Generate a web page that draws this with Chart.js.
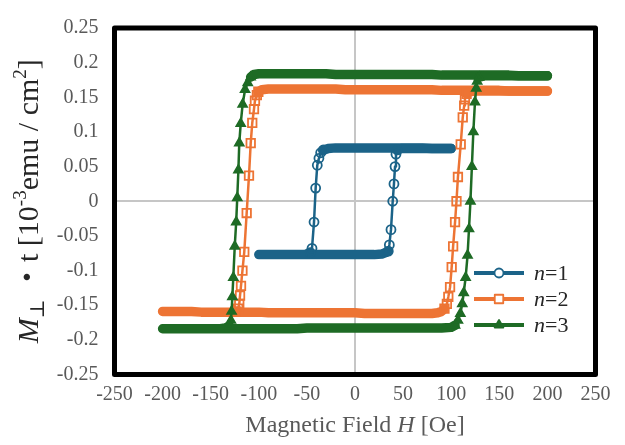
<!DOCTYPE html>
<html>
<head>
<meta charset="utf-8">
<script src="https://cdn.jsdelivr.net/npm/chart.js@4.4.1/dist/chart.umd.min.js"></script>
<style>
  html, body { margin: 0; padding: 0; background: #fff; }
  #wrap { width: 625px; height: 445px; position: relative; }
</style>
</head>
<body>
<div id="wrap"><canvas id="chart"></canvas></div>
<script>
// axis ticks
const xTicks = [-250, -200, -150, -100, -50, 0, 50, 100, 150, 200, 250];
const yTicks = [0.25, 0.2, 0.15, 0.1, 0.05, 0, -0.05, -0.1, -0.15, -0.2, -0.25];
const yTickLabels = ['0.25', '0.2', '0.15', '0.1', '0.05', '0', '-0.05', '-0.1', '-0.15', '-0.2', '-0.25'];

const seriesNames = ['1', '2', '3'];   // shown as "n=1" etc.

// n=1 : field H [Oe] and M*t, sweep down then up
const n1H = [100, 90, 80, 70, 60, 50, 40, 30, 20, 10, 0, -10, -20, -28,
  -33, -35.7, -37.5, -39.2, -40.9, -42.6, -44.7, -46.5, -52, -60, -70, -80, -90, -100,
  -90, -80, -70, -60, -50, -40, -30, -20, -10, 0, 10, 20, 28,
  32, 34.6, 35.7, 37.4, 39.2, 40.5, 41.6, 42.6, 44, 48, 60, 70, 80, 90, 100];
const n1M = [0.076, 0.076, 0.076, 0.077, 0.077, 0.077, 0.077, 0.077, 0.077, 0.077, 0.077, 0.077, 0.077, 0.076,
  0.074, 0.070, 0.062, 0.052, 0.019, -0.030, -0.068, -0.074, -0.077, -0.077, -0.077, -0.077, -0.077, -0.077,
  -0.077, -0.077, -0.077, -0.077, -0.077, -0.077, -0.077, -0.077, -0.077, -0.077, -0.077, -0.077, -0.076,
  -0.074, -0.072, -0.063, -0.041, 0.000, 0.025, 0.050, 0.068, 0.074, 0.076, 0.076, 0.076, 0.076, 0.076, 0.076];

// n=2
const n2H = [200, 190, 180, 170, 160, 150, 140, 130, 120, 110, 100, 90, 80, 70, 60, 50, 40, 30, 20, 10, 0,
  -10, -20, -30, -40, -50, -60, -70, -80, -90, -97,
  -100.5, -102, -104, -105, -106.8, -108.4, -110.2, -112.6, -115.1, -117, -118.5, -119.5, -120.3, -121.5, -124, -130,
  -140, -150, -160, -170, -180, -190, -200,
  -190, -180, -170, -160, -150, -140, -130, -120, -110, -100, -90, -80, -70, -60, -50, -40, -30, -20, -10,
  0, 10, 20, 30, 40, 50, 60, 70, 80, 86,
  90, 93, 95.5, 97, 98.8, 100.5, 102, 104, 105.5, 107, 109.9, 112, 113.5, 114.3, 116, 119, 125,
  130, 140, 150, 160, 170, 180, 190, 200];
const n2M = [0.159, 0.159, 0.159, 0.159, 0.159, 0.160, 0.160, 0.160, 0.160, 0.160, 0.160, 0.160, 0.161, 0.161, 0.161, 0.161, 0.161, 0.161, 0.161, 0.161, 0.161,
  0.161, 0.162, 0.162, 0.162, 0.162, 0.162, 0.162, 0.162, 0.162, 0.161,
  0.158, 0.153, 0.145, 0.133, 0.113, 0.084, 0.037, -0.017, -0.073, -0.100, -0.122, -0.136, -0.148, -0.155, -0.159, -0.160,
  -0.160, -0.160, -0.160, -0.159, -0.159, -0.159, -0.159,
  -0.159, -0.159, -0.159, -0.160, -0.160, -0.160, -0.160, -0.160, -0.160, -0.160, -0.161, -0.161, -0.161, -0.161, -0.161, -0.161, -0.161, -0.161, -0.161,
  -0.161, -0.162, -0.162, -0.162, -0.162, -0.162, -0.162, -0.162, -0.162, -0.161,
  -0.159, -0.155, -0.148, -0.138, -0.124, -0.095, -0.065, -0.030, 0.000, 0.035, 0.082, 0.121, 0.138, 0.147, 0.155, 0.158, 0.159,
  0.159, 0.159, 0.159, 0.159, 0.159, 0.159, 0.159, 0.159];

// n=3
const n3H = [200, 190, 180, 170, 160, 150, 140, 130, 120, 110, 100, 90, 80, 70, 60, 50, 40, 30, 20, 10, 0,
  -10, -20, -30, -40, -50, -60, -70, -80, -90, -100,
  -105, -108.5, -111.5, -114.3, -116.8, -118.8, -120.3, -121.2, -122.4, -123.5, -125, -126.5, -127.5, -128.3, -129, -130.5, -135,
  -140, -150, -160, -170, -180, -190, -200,
  -190, -180, -170, -160, -150, -140, -130, -120, -110, -100, -90, -80, -70, -60, -50, -40, -30, -20, -10,
  0, 10, 20, 30, 40, 50, 60, 70, 80, 90,
  100, 104, 107, 109.5, 111.5, 113, 115, 117, 118.5, 120, 121.5, 123, 124.7, 126, 127, 129, 134,
  140, 150, 160, 170, 180, 190, 200];
const n3M = [0.181, 0.181, 0.181, 0.181, 0.182, 0.182, 0.182, 0.182, 0.182, 0.182, 0.182, 0.182, 0.183, 0.183, 0.183, 0.183, 0.183, 0.183, 0.183, 0.183, 0.183,
  0.183, 0.183, 0.184, 0.184, 0.184, 0.184, 0.184, 0.184, 0.184, 0.184,
  0.183, 0.179, 0.171, 0.161, 0.140, 0.112, 0.084, 0.045, 0.005, -0.030, -0.065, -0.110, -0.138, -0.159, -0.172, -0.180, -0.183,
  -0.184, -0.184, -0.184, -0.184, -0.184, -0.184, -0.184,
  -0.184, -0.184, -0.184, -0.184, -0.184, -0.184, -0.184, -0.184, -0.184, -0.184, -0.184, -0.184, -0.184, -0.184, -0.183, -0.183, -0.183, -0.183, -0.183,
  -0.183, -0.183, -0.183, -0.183, -0.183, -0.183, -0.183, -0.183, -0.183, -0.183,
  -0.182, -0.179, -0.172, -0.162, -0.148, -0.132, -0.110, -0.078, -0.040, 0.000, 0.050, 0.100, 0.143, 0.163, 0.173, 0.179, 0.181,
  0.181, 0.181, 0.181, 0.181, 0.181, 0.181, 0.181, 0.181];

const colors = ['#1b6388', '#ed7434', '#1e6b25'];
const styles = ['circle', 'rect', 'triangle'];
const radii = [4.5, 6, 5];

const SERIF = "'Liberation Serif', 'DejaVu Serif', 'Noto Sans CJK JP', serif";
const AREA = { left: 114.5, right: 595.5, top: 18.5, bottom: 374.5 };

function toPoints(hs, ms) {
  return hs.map((h, i) => ({ x: h, y: ms[i] }));
}

// a segment counts as "flat" when it runs more across than up in pixels
function isFlatSeg(chart, a, b) {
  const xs = chart.scales.x, ys = chart.scales.y;
  const dx = Math.abs(xs.getPixelForValue(b.x) - xs.getPixelForValue(a.x));
  const dy = Math.abs(ys.getPixelForValue(b.y) - ys.getPixelForValue(a.y));
  return dx > dy;
}

function markerRadius(c) {
  const d = c.dataset.data, i = c.dataIndex;
  const r = radii[c.datasetIndex];
  if (!c.chart.scales.x) return r;
  const prevFlat = i === 0 || isFlatSeg(c.chart, d[i - 1], d[i]);
  const nextFlat = i === d.length - 1 || isFlatSeg(c.chart, d[i], d[i + 1]);
  return prevFlat && nextFlat ? 0 : r;
}

const allH = [n1H, n2H, n3H];
const allM = [n1M, n2M, n3M];

const datasets = allH.map((hs, i) => ({
  label: 'n=' + seriesNames[i],
  data: toPoints(hs, allM[i]),
  showLine: true,
  borderColor: colors[i],
  pointBorderColor: colors[i],
  pointBackgroundColor: styles[i] === 'triangle' ? colors[i] : 'rgba(255,255,255,0)',
  pointStyle: styles[i],
  pointRadius: markerRadius,
  pointBorderWidth: 1.8,
  borderWidth: 2.5,
  borderCapStyle: 'round',
  borderJoinStyle: 'round',
  order: 3 - i,
  segment: {
    // flat parts of the loop look like a thick band of overlapping markers
    borderWidth: ctx => {
      const dx = Math.abs(ctx.p1.x - ctx.p0.x);
      const dy = Math.abs(ctx.p1.y - ctx.p0.y);
      return dx > dy ? 9.5 : 2.5;
    }
  }
}));

function drawParts(ctx, parts, x, y, align) {
  let total = 0;
  parts.forEach(p => { ctx.font = p.font; total += ctx.measureText(p.t).width; });
  let cx = align === 'center' ? x - total / 2 : x;
  parts.forEach(p => {
    ctx.font = p.font;
    ctx.fillText(p.t, cx, y + (p.dy || 0));
    cx += ctx.measureText(p.t).width;
  });
}

function drawMarker(ctx, style, x, y, r, color) {
  ctx.save();
  ctx.strokeStyle = color;
  ctx.fillStyle = color;
  ctx.lineWidth = 1.8;
  ctx.beginPath();
  if (style === 'circle') {
    ctx.arc(x, y, r, 0, Math.PI * 2);
    ctx.fillStyle = '#fff';
    ctx.fill();
    ctx.stroke();
  } else if (style === 'rect') {
    const s = r / Math.SQRT2;
    ctx.rect(x - s, y - s, 2 * s, 2 * s);
    ctx.fillStyle = '#fff';
    ctx.fill();
    ctx.stroke();
  } else {
    ctx.moveTo(x, y - r);
    ctx.lineTo(x - r * 0.87, y + r * 0.5);
    ctx.lineTo(x + r * 0.87, y + r * 0.5);
    ctx.closePath();
    ctx.fill();
    ctx.stroke();
  }
  ctx.restore();
}

const decorPlugin = {
  id: 'decor',
  afterDatasetsDraw(chart) {
    const ctx = chart.ctx;
    const a = chart.chartArea;
    ctx.save();
    // plot frame
    ctx.strokeStyle = '#000';
    ctx.lineWidth = 5;
    ctx.lineJoin = 'round';
    ctx.strokeRect(a.left, a.top, a.right - a.left, a.bottom - a.top);

    // legend
    const rows = [273, 299, 325];
    datasets.forEach((d, i) => {
      const y = rows[i];
      ctx.strokeStyle = colors[i];
      ctx.lineWidth = 4;
      ctx.lineCap = 'butt';
      ctx.beginPath();
      ctx.moveTo(474, y);
      ctx.lineTo(524, y);
      ctx.stroke();
      drawMarker(ctx, styles[i], 499, y, radii[i], colors[i]);
      ctx.fillStyle = '#262626';
      ctx.textBaseline = 'middle';
      drawParts(ctx, [
        { t: 'n', font: 'italic 22px ' + SERIF },
        { t: '=' + seriesNames[i], font: '22px ' + SERIF }
      ], 534, y + 1, 'left');
    });

    // x axis title
    ctx.fillStyle = '#595959';
    ctx.textBaseline = 'alphabetic';
    drawParts(ctx, [
      { t: 'Magnetic Field ', font: '24px ' + SERIF },
      { t: 'H', font: 'italic 24px ' + SERIF },
      { t: ' [Oe]', font: '24px ' + SERIF }
    ], (a.left + a.right) / 2, 432, 'center');

    // y axis title
    ctx.translate(38, (a.top + a.bottom) / 2);
    ctx.rotate(-Math.PI / 2);
    ctx.fillStyle = '#262626';
    drawParts(ctx, [
      { t: 'M', font: 'italic 30px ' + SERIF },
      { t: '\u22A5', font: '20px ' + SERIF, dy: 6 },
      { t: ' \u30FBt [10', font: '30px ' + SERIF },
      { t: '-3', font: '19px ' + SERIF, dy: -12 },
      { t: 'emu / cm', font: '30px ' + SERIF },
      { t: '2', font: '19px ' + SERIF, dy: -12 },
      { t: ']', font: '30px ' + SERIF }
    ], 0, 0, 'center');
    ctx.restore();
  }
};

new Chart(document.getElementById('chart'), {
  type: 'scatter',
  data: { datasets },
  plugins: [decorPlugin],
  options: {
    responsive: true,
    maintainAspectRatio: false,
    animation: false,
    layout: { padding: { top: AREA.top, right: 625 - AREA.right, left: 0, bottom: 0 } },
    plugins: { legend: { display: false }, tooltip: { enabled: false } },
    scales: {
      x: {
        type: 'linear', min: -250, max: 250,
        afterBuildTicks: s => { s.ticks = xTicks.map(v => ({ value: v })); },
        afterFit: s => { s.height = 445 - AREA.bottom; },
        border: { display: false },
        grid: {
          drawTicks: false,
          lineWidth: 2,
          color: c => (c.tick && c.tick.value === 0 ? '#c6c6c6' : 'rgba(0,0,0,0)')
        },
        ticks: {
          padding: 8,
          color: '#595959',
          font: { family: SERIF, size: 20 },
          maxRotation: 0,
          autoSkip: false,
          callback: v => String(v)
        }
      },
      y: {
        type: 'linear', min: -0.25, max: 0.25,
        afterBuildTicks: s => { s.ticks = yTicks.map(v => ({ value: v })); },
        afterFit: s => { s.width = AREA.left; },
        border: { display: false },
        grid: {
          drawTicks: false,
          lineWidth: 2,
          color: c => (c.tick && Math.abs(c.tick.value) < 1e-9 ? '#c6c6c6' : 'rgba(0,0,0,0)')
        },
        ticks: {
          padding: 16,
          color: '#595959',
          font: { family: SERIF, size: 20 },
          autoSkip: false,
          callback: (v, i) => yTickLabels[i]
        }
      }
    }
  }
});
</script>
</body>
</html>
